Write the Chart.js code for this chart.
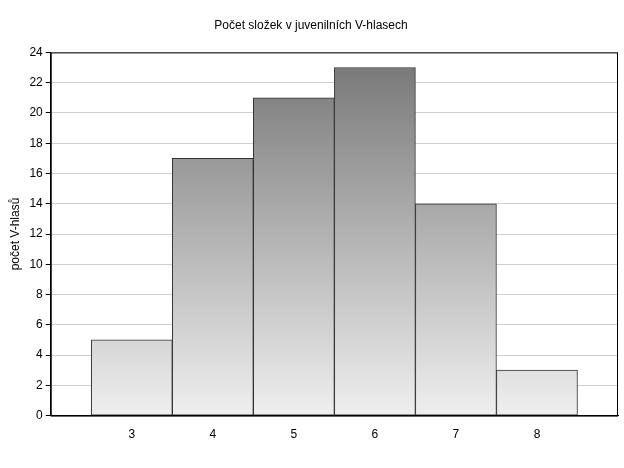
<!DOCTYPE html>
<html>
<head>
<meta charset="utf-8">
<script src="https://cdn.jsdelivr.net/npm/chart.js@4"></script>
<style>
  body { margin: 0; background: #fff; }
  #wrap { width: 624px; height: 468px; }
</style>
</head>
<body>
<div id="wrap"><canvas id="histChart"></canvas></div>
<script>
const categories = [3, 4, 5, 6, 7, 8];
const counts = [5, 17, 21, 23, 14, 3];
const yTicks = [0, 2, 4, 6, 8, 10, 12, 14, 16, 18, 20, 22, 24];

function barGradient(context) {
  const area = context.chart.chartArea;
  if (!area) return '#aaa';
  const g = context.chart.ctx.createLinearGradient(0, area.top, 0, area.bottom);
  g.addColorStop(0, '#757575');
  g.addColorStop(1, '#efefef');
  return g;
}

var ctx = document.getElementById('histChart').getContext('2d');
var histChart = new Chart(ctx, {
  type: 'bar',
  data: {
    datasets: [{
      data: categories.map((c, i) => ({ x: c, y: counts[i] })),
      backgroundColor: barGradient,
      borderColor: '#333',
      borderWidth: 1,
      borderSkipped: false,
      barPercentage: 1,
      categoryPercentage: 1
    }]
  },
  options: {
    responsive: true,
    maintainAspectRatio: false,
    animation: false,
    layout: { padding: { top: 10, right: 6, bottom: 22, left: 4 } },
    plugins: {
      legend: { display: false },
      tooltip: { enabled: false },
      title: {
        display: true,
        text: 'Počet složek v juvenilních V-hlasech',
        color: '#000',
        font: { family: 'Arial, Liberation Sans', size: 12, weight: 'normal' },
        padding: { top: 8, bottom: 20 }
      }
    },
    scales: {
      x: {
        type: 'linear',
        min: 2,
        max: 9,
        offset: false,
        afterBuildTicks: axis => { axis.ticks = categories.map(v => ({ value: v })); },
        grid: { display: false },
        border: { color: '#000' },
        ticks: { color: '#000', padding: 4, font: { family: 'Arial, Liberation Sans', size: 12 } }
      },
      y: {
        min: 0,
        max: 24,
        afterBuildTicks: axis => { axis.ticks = yTicks.map(v => ({ value: v })); },
        grid: { color: '#d0d0d0', tickColor: '#000', tickLength: 5 },
        border: { color: '#000' },
        ticks: { color: '#000', font: { family: 'Arial, Liberation Sans', size: 12 } },
        title: {
          display: true,
          text: 'počet V-hlasů',
          color: '#000',
          font: { family: 'Arial, Liberation Sans', size: 12 }
        }
      }
    }
  },
  plugins: [{
    id: 'frame',
    afterDraw(chart) {
      const a = chart.chartArea, c = chart.ctx;
      c.save();
      c.strokeStyle = '#000';
      c.lineWidth = 1;
      c.strokeRect(a.left + 0.5, a.top + 0.5, a.right - a.left - 1, a.bottom - a.top);
      c.restore();
    }
  }]
});
</script>
</body>
</html>
